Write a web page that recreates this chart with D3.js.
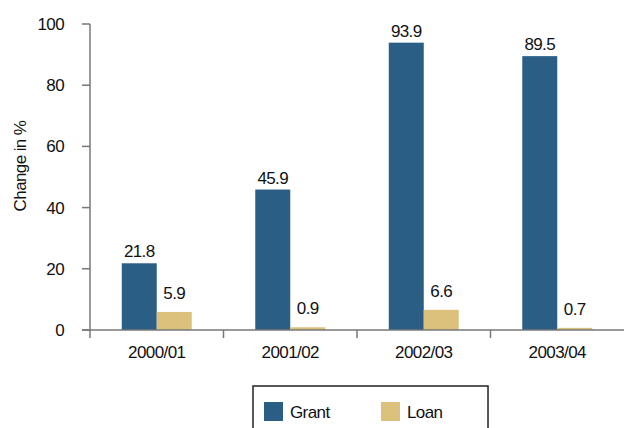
<!DOCTYPE html>
<html>
<head>
<meta charset="utf-8">
<script src="https://cdn.jsdelivr.net/npm/d3@7"></script>
<style>
	body { margin: 0; background: #fff; }
	text { font-family: "Liberation Sans Narrow", "Liberation Sans", Arial, sans-serif; fill: #111; font-size: 17px; letter-spacing: -0.6px; }
</style>
</head>
<body>
<div id="chart"></div>
<script>
var years = ["2000/01", "2001/02", "2002/03", "2003/04"];
var series = ["Grant", "Loan"];
var grant = [21.8, 45.9, 93.9, 89.5];
var loan = [5.9, 0.9, 6.6, 0.7];
var yTicks = [0, 20, 40, 60, 80, 100];

var colors = { Grant: "#2a5e85", Loan: "#dbc17b" };
var width = 624, height = 428;
var mLeft = 90, mRight = 624, mTop = 24, mBottom = 330;

var svg = d3.select("#chart").append("svg").attr("width", width).attr("height", height);

var y = d3.scaleLinear().domain([0, 100]).range([mBottom, mTop]);

var x = d3.scaleBand().domain(years).range([mLeft, mRight])
	.paddingInner(0.476).paddingOuter(0.238);

var xs = d3.scaleBand().domain(series).range([0, x.bandwidth()]);

var rows = years.map(function(d, i){ return { year: d, Grant: grant[i], Loan: loan[i] }; });

// bars
var groups = svg.selectAll(".grp").data(rows).enter().append("g")
	.attr("transform", function(d){ return "translate(" + x(d.year) + ",0)"; });

groups.selectAll("rect").data(function(d){ return series.map(function(s){ return { key: s, v: d[s] }; }); })
	.enter().append("rect")
	.attr("x", function(d){ return xs(d.key); })
	.attr("width", xs.bandwidth())
	.attr("y", function(d){ return y(d.v); })
	.attr("height", function(d){ return mBottom - y(d.v); })
	.attr("fill", function(d){ return colors[d.key]; });

groups.selectAll(".lbl").data(function(d){ return series.map(function(s){ return { key: s, v: d[s] }; }); })
	.enter().append("text")
	.attr("x", function(d){ return xs(d.key) + xs.bandwidth() / 2; })
	.attr("y", function(d){ return y(d.v) - (d.key == "Grant" ? 6 : 13); })
	.attr("text-anchor", "middle")
	.text(function(d){ return d.v.toFixed(1); });

// y axis
var axisColor = "#777";
var yAxis = svg.append("g");
yAxis.append("line").attr("x1", mLeft).attr("x2", mLeft).attr("y1", mTop).attr("y2", mBottom + 8)
	.attr("stroke", axisColor).attr("stroke-width", 1.5);
yAxis.selectAll(".tk").data(yTicks).enter().append("line")
	.attr("x1", mLeft - 8).attr("x2", mLeft)
	.attr("y1", function(d){ return y(d); }).attr("y2", function(d){ return y(d); })
	.attr("stroke", axisColor).attr("stroke-width", 1.5);
yAxis.selectAll(".tl").data(yTicks).enter().append("text")
	.attr("x", mLeft - 26).attr("y", function(d){ return y(d); })
	.attr("dy", "0.35em").attr("text-anchor", "end")
	.text(function(d){ return d; });

svg.append("text")
	.attr("transform", "translate(26,166) rotate(-90)")
	.attr("text-anchor", "middle")
	.text("Change in %");

// x axis
svg.append("line").attr("x1", mLeft - 8).attr("x2", mRight).attr("y1", mBottom).attr("y2", mBottom)
	.attr("stroke", axisColor).attr("stroke-width", 1.5);
svg.selectAll(".xt").data(years.slice(1)).enter().append("line")
	.attr("x1", function(d){ return x(d) - x.step() * x.paddingInner() / 2; })
	.attr("x2", function(d){ return x(d) - x.step() * x.paddingInner() / 2; })
	.attr("y1", mBottom).attr("y2", mBottom + 8)
	.attr("stroke", axisColor).attr("stroke-width", 1.5);
svg.selectAll(".xl").data(years).enter().append("text")
	.attr("x", function(d){ return x(d) + x.bandwidth() / 2; })
	.attr("y", mBottom + 28)
	.attr("text-anchor", "middle")
	.text(function(d){ return d; });

// legend
var lg = svg.append("g");
lg.append("rect").attr("x", 253).attr("y", 386).attr("width", 235).attr("height", 60)
	.attr("fill", "none").attr("stroke", "#222").attr("stroke-width", 1.5);
var li = lg.selectAll(".li").data(series).enter().append("g")
	.attr("transform", function(d, i){ return "translate(" + (264 + i * 117) + ",402)"; });
li.append("rect").attr("width", 19).attr("height", 19).attr("fill", function(d){ return colors[d]; });
li.append("text").attr("x", 26).attr("y", 10).attr("dy", "0.35em")
	.text(function(d){ return d; });
</script>
</body>
</html>
